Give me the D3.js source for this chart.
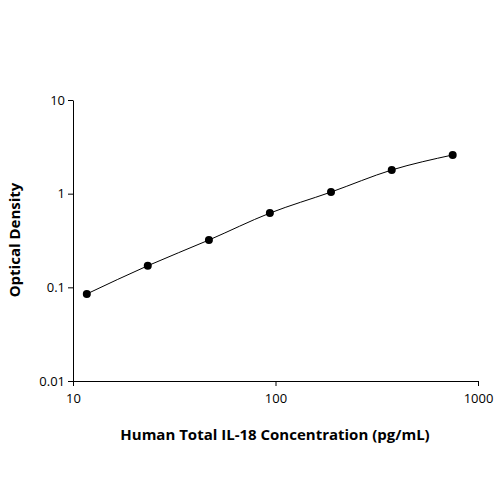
<!DOCTYPE html>
<html><head><meta charset="utf-8">
<script src="https://cdn.jsdelivr.net/npm/d3@7"></script>
<style>body{margin:0;background:#fff}text{font-family:"Open Sans",sans-serif}</style>
</head><body><div id="chart"></div>
<script>
var concs = [11.7, 23.4, 46.9, 93.8, 188, 375, 750];
var ods = [0.085, 0.17, 0.32, 0.62, 1.04, 1.79, 2.59];
var xTicks = [10, 100, 1000];
var yTicks = [0.01, 0.1, 1, 10];

var svg = d3.select('#chart').append('svg').attr('width', 500).attr('height', 500);
var x = d3.scaleLog().domain([10, 1000]).range([73, 478]);
var y = d3.scaleLog().domain([0.01, 10]).range([381, 100]);

svg.append('g').attr('transform', 'translate(0,381)')
    .call(d3.axisBottom(x).tickValues(xTicks).tickFormat(d3.format('d')).tickSize(5).tickSizeOuter(0))
    .call(function (g) { g.selectAll('text').attr('font-size', 13).attr('dy', '1.1em'); });
svg.append('g').attr('transform', 'translate(73,0)')
    .call(d3.axisLeft(y).tickValues(yTicks).tickFormat(function (d) { return String(d); }).tickSize(5).tickSizeOuter(0))
    .call(function (g) { g.selectAll('text').attr('font-size', 13); });
svg.selectAll('.domain').attr('stroke', '#000');

var data = concs.map(function (c, i) { return [c, ods[i]]; });
svg.append('path').datum(data)
    .attr('fill', 'none').attr('stroke', '#000').attr('stroke-width', 1)
    .attr('d', d3.line().x(function (d) { return x(d[0]); }).y(function (d) { return y(d[1]); }).curve(d3.curveMonotoneX));
svg.selectAll('circle.pt').data(data).enter().append('circle')
    .attr('cx', function (d) { return x(d[0]); }).attr('cy', function (d) { return y(d[1]); })
    .attr('r', 4).attr('fill', '#000');

svg.append('text').attr('x', 275).attr('y', 440).attr('text-anchor', 'middle')
    .attr('font-size', 15).attr('font-weight', 'bold').text('Human Total IL-18 Concentration (pg/mL)');
svg.append('text').attr('transform', 'translate(20,240) rotate(-90)').attr('text-anchor', 'middle')
    .attr('font-size', 15).attr('font-weight', 'bold').text('Optical Density');
</script></body></html>
